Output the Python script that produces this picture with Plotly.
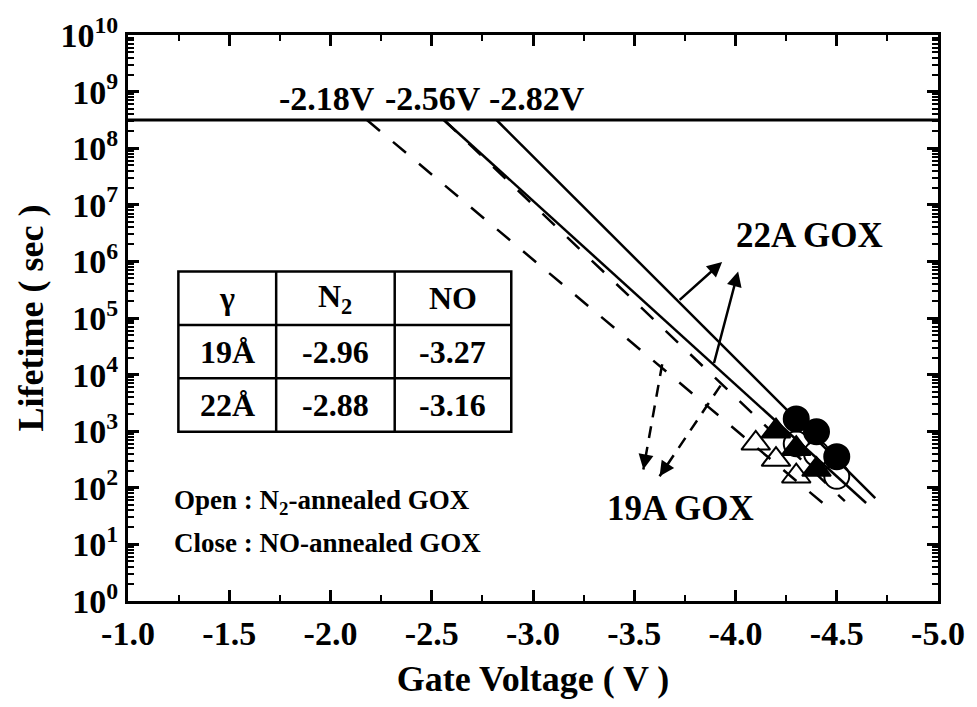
import plotly.graph_objects as go
import numpy as np

# Measured TDDB lifetimes (s) at the stress gate voltages (V)
v_19_n2 = [-4.1, -4.2, -4.3]
t_19_n2 = [610, 316, 160]
v_19_no = [-4.2, -4.3, -4.4]
t_19_no = [1000, 490, 210]
v_22_n2 = [-4.3, -4.4, -4.5]
t_22_n2 = [600, 400, 160]
v_22_no = [-4.3, -4.4, -4.5]
t_22_no = [1650, 980, 355]

# Extrapolated lifetime lines: voltage where each reaches the 10-year lifetime,
# and the low-voltage end of each line
ten_year_s = 3.15e8
fit_v10 = [-2.18, -2.56, -2.56, -2.82]     # 19A N2, 19A NO, 22A N2, 22A NO
fit_v_end = [-4.43, -4.54, -4.645, -4.69]
fit_t_end = [54, 58, 54, 66]

# Voltages quoted at the 10-year line
label_v10 = [-2.18, -2.56, -2.82]

# Voltage-acceleration factors
table_header = ["γ", "N<sub>2</sub>", "NO"]
table_rows = [["19Å", "-2.96", "-3.27"], ["22Å", "-2.88", "-3.16"]]

# Axis ticks
x_ticks = [-1.0, -1.5, -2.0, -2.5, -3.0, -3.5, -4.0, -4.5, -5.0]
y_exponents = list(range(0, 11))

FONT = "Liberation Serif, Times New Roman, serif"
W, H = 977, 707
ML, MR, MT, MB = 128, 29, 29, 106
PW, PH = W - ML - MR, H - MT - MB


def px(xp):
    return (xp - ML) / PW


def py(yp):
    return (H - MB - yp) / PH


def text_note(xp, yp, text, size, xanchor="center"):
    return dict(
        x=px(xp), y=py(yp), xref="paper", yref="paper",
        xanchor=xanchor, yanchor="middle", text=f"<b>{text}</b>",
        showarrow=False, font=dict(family=FONT, size=size, color="black"),
    )


fig = go.Figure()


# data markers (drawn first so the lines run over them)
def markers(v, t, symbol, fill):
    fig.add_trace(go.Scatter(
        x=v, y=t, mode="markers", showlegend=False,
        marker=dict(symbol=symbol, size=25, color=fill,
                    line=dict(color="black", width=2)),
    ))


markers(v_22_n2, t_22_n2, "circle", "white")
markers(v_19_n2, t_19_n2, "triangle-up", "white")
markers(v_19_no, t_19_no, "triangle-up", "black")
markers(v_22_no, t_22_no, "circle", "black")

# 10-year reference line
fig.add_trace(go.Scatter(
    x=[-1.0, -5.0], y=[ten_year_s, ten_year_s], mode="lines",
    line=dict(color="black", width=3), showlegend=False,
))

# extrapolated lifetime lines (dashed: 19A, solid: 22A)
styles = ["17px,17px", "17px,17px", "solid", "solid"]
for v0, v1, t1, dash in zip(fit_v10, fit_v_end, fit_t_end, styles):
    fig.add_trace(go.Scatter(
        x=[v0, v1], y=[ten_year_s, t1], mode="lines",
        line=dict(color="black", width=2.5, dash=dash), showlegend=False,
    ))

annotations = []

# 10-year voltage labels, set side by side above the line
for xp, v in zip([329, 437, 542], label_v10):
    annotations.append(text_note(xp, 93, f"{v:.2f}V", 34))

# arrows pointing to the 22A GOX label (solid)
for (x0, y0, x1, y1) in [(-3.717, 5.297, -3.934, 5.991),
                         (-3.892, 4.178, -4.013, 5.822)]:
    annotations.append(dict(
        x=x1, y=y1, ax=x0, ay=y0, xref="x", yref="y", axref="x", ayref="y",
        text="", showarrow=True, arrowhead=2, arrowsize=1.2,
        arrowwidth=2.5, arrowcolor="black",
    ))

# arrows pointing to the 19A GOX label (dashed)
for (x0, y0, x1, y1) in [(-3.638, 4.184, -3.545, 2.325),
                         (-3.926, 3.806, -3.625, 2.203)]:
    fig.add_trace(go.Scatter(
        x=[x0, x1], y=[10 ** y0, 10 ** y1], mode="lines",
        line=dict(color="black", width=2.5, dash="12px,9px"),
        showlegend=False,
    ))
    annotations.append(dict(
        x=x1, y=y1, ax=x1 + (x0 - x1) * 0.08, ay=y1 + (y0 - y1) * 0.08,
        xref="x", yref="y", axref="x", ayref="y",
        text="", showarrow=True, arrowhead=2, arrowsize=1.2,
        arrowwidth=2.5, arrowcolor="black",
    ))

annotations.append(text_note(818, 232, "22A GOX", 35))
annotations.append(text_note(687, 508, "19A GOX", 35))

# open / close legend text
annotations.append(text_note(173, 501, "Open : N<sub>2</sub>-annealed GOX", 27, "left"))
annotations.append(text_note(173, 542, "Close : NO-annealed GOX", 27, "left"))

# gamma table
col_edges = [179, 278, 398, 516]
row_edges = [268, 322, 376, 430]
shapes = [dict(type="rect", xref="paper", yref="paper",
               x0=px(col_edges[0]), x1=px(col_edges[-1]),
               y0=py(row_edges[0]), y1=py(row_edges[-1]),
               line=dict(color="black", width=2.5), fillcolor="white",
               layer="below")]
for c in col_edges[1:-1]:
    shapes.append(dict(type="line", xref="paper", yref="paper",
                       x0=px(c), x1=px(c), y0=py(row_edges[0]), y1=py(row_edges[-1]),
                       line=dict(color="black", width=2.5)))
for r in row_edges[1:-1]:
    shapes.append(dict(type="line", xref="paper", yref="paper",
                       x0=px(col_edges[0]), x1=px(col_edges[-1]), y0=py(r), y1=py(r),
                       line=dict(color="black", width=2.5)))
for ri, row in enumerate([table_header] + table_rows):
    yc = (row_edges[ri] + row_edges[ri + 1]) / 2
    for ci, cell in enumerate(row):
        xc = (col_edges[ci] + col_edges[ci + 1]) / 2
        annotations.append(text_note(xc, yc, cell, 32))

axis_common = dict(
    showline=True, linecolor="black", linewidth=3, mirror="allticks",
    ticks="inside", tickwidth=2.5, tickcolor="black", ticklen=11,
    showgrid=False, zeroline=False, ticklabeloverflow="allow",
    tickfont=dict(family=FONT, size=34, color="black", weight="bold"),
)

fig.update_layout(
    width=W, height=H,
    margin=dict(l=ML, r=MR, t=MT, b=MB),
    paper_bgcolor="white", plot_bgcolor="white",
    showlegend=False,
    annotations=annotations, shapes=shapes,
    xaxis=dict(
        range=[-1.0, -5.0], tickvals=x_ticks,
        ticktext=[f"{v:.1f}" for v in x_ticks],
        minor=dict(ticks="inside", ticklen=6, tickwidth=2, tickcolor="black",
                   dtick=0.25, showgrid=False),
        title=dict(text="<b>Gate Voltage ( V )</b>", standoff=16,
                   font=dict(family=FONT, size=36, color="black")),
        **axis_common,
    ),
    yaxis=dict(
        type="log", range=[0, 10],
        tickvals=[10 ** e for e in y_exponents],
        ticktext=[f"10<sup>{e}</sup>" for e in y_exponents],
        minor=dict(ticks="inside", ticklen=6, tickwidth=2, tickcolor="black",
                   dtick="D1", showgrid=False),
        title=dict(text="<b>Lifetime ( sec )</b>", standoff=6,
                   font=dict(family=FONT, size=36, color="black")),
        **axis_common,
    ),
)

fig.write_html("out.html")
